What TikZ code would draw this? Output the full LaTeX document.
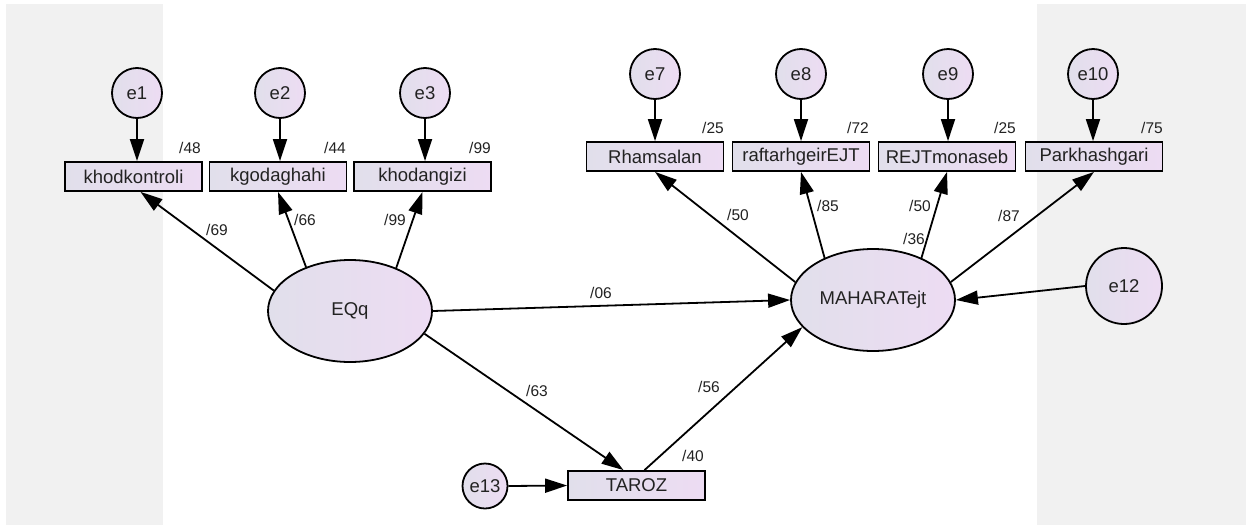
\documentclass[tikz,border=0pt]{standalone}
\usepackage{fontspec}
\setmainfont{Liberation Sans}
\usetikzlibrary{arrows.meta,shapes.geometric}
\definecolor{bandgray}{HTML}{F1F1F1}
\definecolor{nodeL}{HTML}{E1DFEB}
\definecolor{nodeR}{HTML}{EDDCF3}
\definecolor{ink}{HTML}{222222}
\begin{document}
\begin{tikzpicture}[x=1pt,y=-1pt,
  nodetext/.style={font=\fontsize{18.5}{20}\selectfont,text=ink},
  latent/.style={ellipse,draw=black,line width=1.8pt,left color=nodeL,right color=nodeR,minimum width=164pt,minimum height=102pt,inner sep=0pt,nodetext},
  errc/.style={circle,draw=black,line width=1.8pt,left color=nodeL,right color=nodeR,minimum size=50pt,inner sep=0pt,nodetext},
  obs/.style={rectangle,draw=black,line width=1.8pt,left color=nodeL,right color=nodeR,minimum width=137pt,minimum height=29pt,inner sep=0pt,nodetext},
  coef/.style={font=\fontsize{15.5}{17}\selectfont,inner sep=0pt,text=ink},
  arr/.style={draw=black,line width=1.8pt,-{Triangle[length=22pt,width=14pt]}}
]
\useasboundingbox (0,0) rectangle (1246,525);
\fill[white] (0,0) rectangle (1246,525);
\fill[bandgray] (6,4) rectangle (163,525);
\fill[bandgray] (1037,4) rectangle (1246,525);

% observed boxes
\node[obs] (khodkontroli) at (133.5,176.5) {khodkontroli};
\node[obs] (kgodaghahi) at (278,176.5) {kgodaghahi};
\node[obs] (khodangizi) at (422.5,176.5) {khodangizi};
\node[obs] (Rhamsalan) at (655,156.5) {Rhamsalan};
\node[obs] (raftar) at (801,156.5) {raftarhgeirEJT};
\node[obs] (REJT) at (947,156.5) {REJTmonaseb};
\node[obs] (Park) at (1094,156.5) {Parkhashgari};
\node[obs] (TAROZ) at (636.5,485.5) {TAROZ};

% latent
\node[latent] (EQq) at (350,311) {EQq};
\node[latent] (MAH) at (873,300) {MAHARATejt};

% errors
\node[errc] (e1) at (137,93) {e1};
\node[errc] (e2) at (280,93) {e2};
\node[errc] (e3) at (425,93) {e3};
\node[errc] (e7) at (655,74) {e7};
\node[errc] (e8) at (801,74) {e8};
\node[errc] (e9) at (948,74) {e9};
\node[errc] (e10) at (1093,74) {e10};
\node[errc,minimum size=76pt] (e12) at (1124,286) {e12};
\node[errc,minimum size=45pt] (e13) at (485,486) {e13};

% error arrows
\draw[arr] (e1.south) -- (e1.south |- khodkontroli.north);
\draw[arr] (e2.south) -- (e2.south |- kgodaghahi.north);
\draw[arr] (e3.south) -- (e3.south |- khodangizi.north);
\draw[arr] (e7.south) -- (e7.south |- Rhamsalan.north);
\draw[arr] (e8.south) -- (e8.south |- raftar.north);
\draw[arr] (e9.south) -- (e9.south |- REJT.north);
\draw[arr] (e10.south) -- (e10.south |- Park.north);
\draw[arr] (e12.west) -- (MAH.east);
\draw[arr] (e13.east) -- (TAROZ.west);

% loadings
\draw[arr] (EQq.165) -- ([xshift=7pt]khodkontroli.south);
\draw[arr] (EQq.135) -- (kgodaghahi.south);
\draw[arr] (EQq.43) -- (khodangizi.south);
\draw[arr] (MAH.167) -- (Rhamsalan.south);
\draw[arr] (MAH.139) -- (raftar.south);
\draw[arr] (MAH.41) -- (REJT.south);
\draw[arr] (MAH.13) -- (Park.south);

% structural paths
\draw[arr] (EQq.east) -- (MAH.west);
\draw[arr] (EQq.-17) -- ([xshift=-13pt]TAROZ.north);
\draw[arr] ([xshift=8pt]TAROZ.north) -- (MAH.201);

% coefficients
\node[coef] (c48) at (190,148) {/48};
\node[coef] (c44) at (335,148) {/44};
\node[coef] (c99a) at (480,148) {/99};
\node[coef] (c25a) at (713,128) {/25};
\node[coef] (c72) at (858,128) {/72};
\node[coef] (c25b) at (1005,128) {/25};
\node[coef] (c75) at (1152,128) {/75};
\node[coef] (c69) at (217,230) {/69};
\node[coef] (c66) at (305,220) {/66};
\node[coef] (c99b) at (395,220) {/99};
\node[coef] (c50a) at (738,215) {/50};
\node[coef] (c85) at (828,206) {/85};
\node[coef] (c50b) at (920,206) {/50};
\node[coef] (c36) at (914,239) {/36};
\node[coef] (c87) at (1009,216) {/87};
\node[coef] (c06) at (601,293) {/06};
\node[coef] (c63) at (537,391) {/63};
\node[coef] (c56) at (709,387) {/56};
\node[coef] (c40) at (693,456) {/40};
\end{tikzpicture}
\end{document}
